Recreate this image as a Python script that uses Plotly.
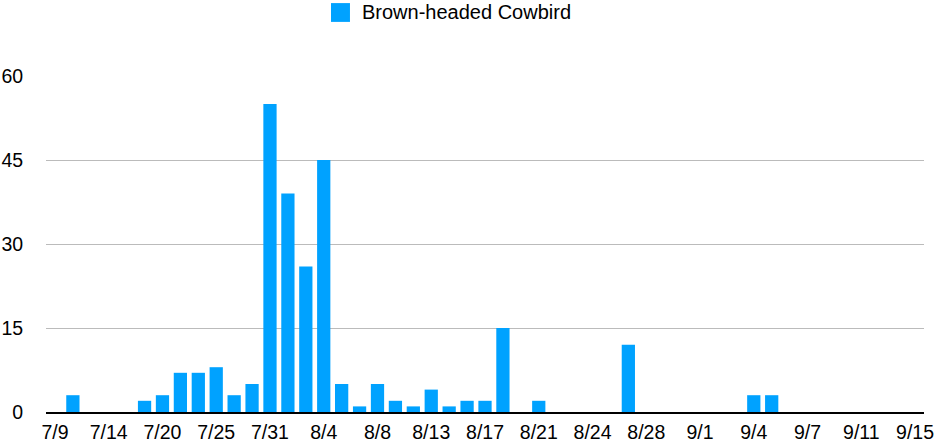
import plotly.graph_objects as go

# 관측 날짜 (카테고리 축)
dates = [
    '7/9', '7/11', '7/12', '7/14', '7/16', '7/18', '7/20', '7/22', '7/23',
    '7/25', '7/27', '7/29', '7/31', '8/1', '8/3', '8/4', '8/5', '8/7',
    '8/8', '8/10', '8/11', '8/13', '8/14', '8/15', '8/17', '8/18', '8/20',
    '8/21', '8/22', '8/23', '8/24', '8/26', '8/27', '8/28', '8/29', '8/31',
    '9/1', '9/2', '9/3', '9/4', '9/5', '9/6', '9/7', '9/9', '9/10',
    '9/11', '9/13', '9/14', '9/15',
]
cowbird = [
    0, 3, 0, 0, 0, 2, 3, 7, 7,
    8, 3, 5, 55, 39, 26, 45, 5, 1,
    5, 2, 1, 4, 1, 2, 2, 15, 0,
    2, 0, 0, 0, 0, 12, 0, 0, 0,
    0, 0, 0, 3, 3, 0, 0, 0, 0,
    0, 0, 0, 0,
]
y_ticks = [0, 15, 30, 45, 60]
x_tick_labels = dates[::3]

SERIES = 'Brown-headed Cowbird'
BLUE = '#00A2FF'
FONT = 'Liberation Sans, Arial, Helvetica, sans-serif'

fig = go.Figure()
fig.add_trace(go.Bar(x=dates, y=cowbird, name=SERIES, marker_color=BLUE,
                     marker_line_width=0, showlegend=False))

# 범례 (위쪽 가운데)
fig.add_shape(type='rect', xref='paper', yref='paper',
              x0=0.3246, x1=0.3462, y0=1.161, y1=1.217,
              fillcolor=BLUE, line_width=0)
fig.add_annotation(text=SERIES, xref='paper', yref='paper', x=0.358, y=1.189,
                   xanchor='left', yanchor='middle', showarrow=False,
                   font=dict(size=20, color='black', family=FONT))

fig.update_layout(
    width=936, height=444,
    margin=dict(l=46, r=12, t=76, b=32),
    plot_bgcolor='white', paper_bgcolor='white',
    bargap=0.26,
    font=dict(family=FONT, size=19.5, color='black'),
    xaxis=dict(
        type='category', categoryorder='array', categoryarray=dates,
        tickmode='array', tickvals=x_tick_labels, ticktext=x_tick_labels,
        showgrid=False, showline=True, linecolor='black', linewidth=2,
        ticks='outside', ticklen=2, tickcolor='rgba(0,0,0,0)', tickangle=0,
        automargin=False,
    ),
    yaxis=dict(
        range=[0, 60], tickvals=y_ticks, showgrid=True, gridcolor='#bbbbbb',
        gridwidth=1, zeroline=False, showline=False,
        ticks='outside', ticklen=18, tickcolor='rgba(0,0,0,0)',
        automargin=False,
    ),
)

# body 기본 여백(8px) 제거 -> 그림이 창 전체를 채우도록
fig.write_html("out.html", config={'displayModeBar': False},
               post_script="document.body.style.margin='0';")
